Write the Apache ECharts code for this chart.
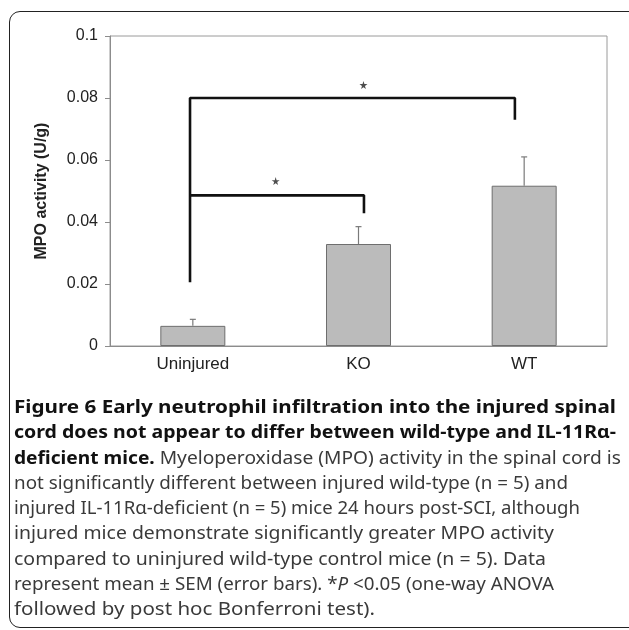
<!DOCTYPE html>
<html>
<head>
<meta charset="utf-8">
<script src="https://cdn.jsdelivr.net/npm/echarts@6/dist/echarts.min.js"></script>
<style>
  html, body { margin: 0; padding: 0; background: #fff; overflow: hidden; }
  #frame { position: absolute; left: 9px; top: 11px; width: 660px; height: 617px;
    border: 1.5px solid #222; border-radius: 11px; box-sizing: border-box; }
  #chart { position: absolute; left: 0; top: 0; width: 629px; height: 630px; }
  #caption { position: absolute; left: 14px; top: 394px; font-family: "Noto Sans", sans-serif;
    font-size: 18px; line-height: 25.3px; color: #3a3a3a; white-space: nowrap; }
  #caption b { color: #111; font-weight: 700; }
  .row { height: 25.3px; }
  .ln { display: inline-block; transform-origin: left center; }
</style>
</head>
<body>
<div id="frame"></div>
<div id="chart"></div>
<div id="caption">
  <div class="row"><span class="ln" data-w="602"><b>Figure 6 Early neutrophil infiltration into the injured spinal</b></span></div>
  <div class="row"><span class="ln" data-w="602"><b>cord does not appear to differ between wild-type and IL-11Rα-</b></span></div>
  <div class="row"><span class="ln" data-w="607"><b>deficient mice.</b> Myeloperoxidase (MPO) activity in the spinal cord is</span></div>
  <div class="row"><span class="ln" data-w="554">not significantly different between injured wild-type (n = 5) and</span></div>
  <div class="row"><span class="ln" data-w="566">injured IL-11Rα-deficient (n = 5) mice 24 hours post-SCI, although</span></div>
  <div class="row"><span class="ln" data-w="540">injured mice demonstrate significantly greater MPO activity</span></div>
  <div class="row"><span class="ln" data-w="532">compared to uninjured wild-type control mice (n = 5). Data</span></div>
  <div class="row"><span class="ln" data-w="540">represent mean ± SEM (error bars). *<i>P</i> &lt;0.05 (one-way ANOVA</span></div>
  <div class="row"><span class="ln" data-w="361">followed by post hoc Bonferroni test).</span></div>
</div>
<script>
const categories = ['Uninjured', 'KO', 'WT'];
const means = [0.0065, 0.0329, 0.0517];
const sems = [0.0021, 0.0056, 0.0093];
const yTicks = [0, 0.02, 0.04, 0.06, 0.08, 0.1];
// significance brackets on a 0..3 overlay x scale (category i centred at i + 0.5)
const bracketOuter = [[0.483, 0.0206], [0.483, 0.08], [2.444, 0.08], [2.444, 0.073]];
const bracketInner = [[0.483, 0.0486], [1.533, 0.0486], [1.533, 0.0428]];
const stars = [[1.53, 0.0842], [1.0, 0.0532]];

// fit caption lines to the measured widths
document.querySelectorAll('.ln').forEach(function (el) {
  const w = el.getBoundingClientRect().width;
  el.style.transform = 'scaleX(' + (+el.dataset.w / w) + ')';
});

const starPath = 'path://M50,0 L61,35 L98,35 L68,57 L79,91 L50,70 L21,91 L32,57 L2,35 L39,35 Z';
const axisGray = '#8c8c8c';
const font = 'Liberation Sans';

const chart = echarts.init(document.getElementById('chart'));
chart.setOption({
  animation: false,
  grid: { left: 110, top: 36, right: 22, bottom: 284, show: true, borderColor: '#9a9a9a', borderWidth: 1 },
  xAxis: [{
    type: 'category',
    data: categories,
    axisLine: { lineStyle: { color: axisGray, width: 1 } },
    axisTick: { length: 5, lineStyle: { color: axisGray } },
    axisLabel: { color: '#222', fontSize: 17, fontFamily: font, margin: 10 }
  }, {
    type: 'value', min: 0, max: 3, show: false
  }],
  yAxis: {
    type: 'value',
    min: 0, max: 0.1, interval: 0.02,
    name: 'MPO activity (U/g)',
    nameLocation: 'middle',
    nameGap: 60,
    nameTextStyle: { color: '#222', fontSize: 16, fontWeight: 'bold', fontFamily: font },
    axisLine: { show: true, lineStyle: { color: axisGray, width: 1 } },
    axisTick: { show: true, length: 5, lineStyle: { color: axisGray } },
    splitLine: { show: false },
    axisLabel: {
      color: '#222', fontSize: 16, fontFamily: font, margin: 12,
      formatter: function (v) {
        const t = yTicks.find(function (k) { return Math.abs(k - v) < 1e-9; });
        return t === undefined ? '' : String(+t.toFixed(2));
      }
    }
  },
  series: [{
    type: 'bar',
    data: means,
    barWidth: 65,
    itemStyle: { color: '#bbbbbb', borderColor: '#6e6e6e', borderWidth: 1 },
    z: 2
  }, {
    type: 'custom',
    data: means.map(function (m, i) { return [i, m, m + sems[i]]; }),
    renderItem: function (params, api) {
      const base = api.coord([api.value(0), api.value(1)]);
      const top = api.coord([api.value(0), api.value(2)]);
      return {
        type: 'group',
        children: [
          { type: 'line', shape: { x1: base[0], y1: base[1], x2: top[0], y2: top[1] },
            style: { stroke: '#7a7a7a', lineWidth: 1.2 } },
          { type: 'line', shape: { x1: top[0] - 3, y1: top[1], x2: top[0] + 3, y2: top[1] },
            style: { stroke: '#7a7a7a', lineWidth: 1.2 } }
        ]
      };
    },
    z: 3
  }, {
    type: 'line', xAxisIndex: 1, data: bracketOuter, symbol: 'none',
    lineStyle: { color: '#111', width: 2.6 }, z: 4
  }, {
    type: 'line', xAxisIndex: 1, data: bracketInner, symbol: 'none',
    lineStyle: { color: '#111', width: 2.6 }, z: 4
  }, {
    type: 'scatter', xAxisIndex: 1, data: stars, symbol: starPath, symbolSize: 8,
    itemStyle: { color: '#222' }, z: 5
  }]
});
</script>
</body>
</html>
